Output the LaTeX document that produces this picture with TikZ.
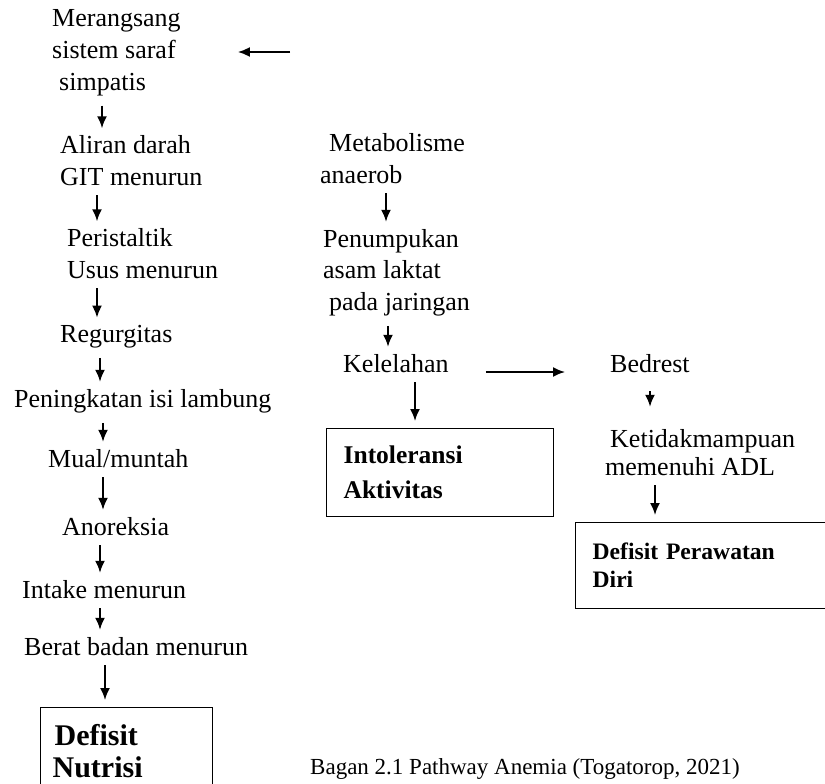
\documentclass[tikz,border=0pt]{standalone}
\usepackage{fontspec}
\setmainfont{Liberation Serif}
\usetikzlibrary{arrows.meta}
\tikzset{
  teks/.style={font=\fontsize{26}{31.5}\selectfont, inner sep=0pt, align=left, anchor=base west},
  kotak/.style={draw=black, line width=1.3pt, inner ysep=0pt, anchor=north west, align=left},
  panah/.style={-{Latex[length=12pt, width=10pt]}, line width=1.8pt, shorten <=10pt, shorten >=7pt},
  judul/.style={font=\fontsize{23}{28}\selectfont, inner sep=0pt, anchor=base west},
}

\begin{document}
\begin{tikzpicture}[x=1pt, y=-1pt]
  \useasboundingbox (0,0) rectangle (825,784);

  % ---------------- kolom kiri (base = baris terakhir) ----------------
  \node[teks] (saraf) at (52,90) {Merangsang\\sistem saraf\\\hspace*{7pt}simpatis};
  \node[teks] (aliran) at (60,185) {Aliran darah\\GIT menurun};
  \node[teks] (peristaltik) at (67,278) {Peristaltik\\Usus menurun};
  \node[teks] (regurgitas) at (60,342) {Regurgitas};
  \node[teks] (lambung) at (14,407) {Peningkatan isi lambung};
  \node[teks] (mual) at (48,467) {Mual/muntah};
  \node[teks] (anoreksia) at (62,535) {Anoreksia};
  \node[teks] (intake) at (22,598) {Intake menurun};
  \node[teks] (berat) at (24,655) {Berat badan menurun};

  % ---------------- kolom tengah ----------------
  \node[teks] (metabolisme) at (320,183) {\hspace*{9pt}Metabolisme\\anaerob};
  \node[teks] (penumpukan) at (323,310) {Penumpukan\\asam laktat\\\hspace*{6pt}pada jaringan};
  \node[teks] (kelelahan) at (343,372) {Kelelahan};

  % ---------------- kolom kanan ----------------
  \node[teks] (bedrest) at (610,372) {Bedrest};
  \node[teks, font=\fontsize{26}{28}\selectfont] (adl) at (605,475) {\hspace*{5pt}Ketidakmampuan\\memenuhi ADL};

  % ---------------- kotak diagnosa ----------------
  \begin{scope}
    \clip (0,0) rectangle (825,784);
    \node[kotak, text width=148pt, inner xsep=12pt, minimum height=86pt,
          font=\bfseries\fontsize{30}{32}\selectfont] (nutrisi) at (40,707) {\hspace*{2pt}Defisit\\Nutrisi};
    \node[kotak, text width=193pt, inner xsep=17pt, minimum height=88pt,
          font=\bfseries\fontsize{25.5}{35}\selectfont] (intoleransi) at (326,428) {Intoleransi\\Aktivitas};
    \node[kotak, text width=236pt, inner xsep=17pt, minimum height=86pt,
          font=\bfseries\fontsize{23.6}{28}\selectfont] (perawatan) at (575,522) {Defisit Perawatan\\Diri};
  \end{scope}

  % ---------------- panah ----------------
  \foreach \a/\b/\x in {saraf/aliran/102, aliran/peristaltik/97, peristaltik/regurgitas/97,
                        regurgitas/lambung/100, lambung/mual/103, mual/anoreksia/103,
                        anoreksia/intake/100, intake/berat/100, berat/nutrisi/105,
                        metabolisme/penumpukan/386, penumpukan/kelelahan/388,
                        kelelahan/intoleransi/415, adl/perawatan/655}
    { \draw[panah] (\a.south -| \x,0) -- (\b.north -| \x,0); }
  \draw[panah, shorten <=19pt, shorten >=22pt] (bedrest.south -| 650,0) -- (adl.north -| 650,0);
  \draw[panah, shorten <=37pt, shorten >=45pt] (kelelahan.base east) -- (bedrest.base west);
  \coordinate (asal) at (290,52);
  \draw[panah, shorten <=0pt, shorten >=57pt] (asal) -- (saraf.east |- asal);

  \node[judul] (bagan) at (310,774) {Bagan 2.1 Pathway Anemia (Togatorop, 2021)};
\end{tikzpicture}
\end{document}
